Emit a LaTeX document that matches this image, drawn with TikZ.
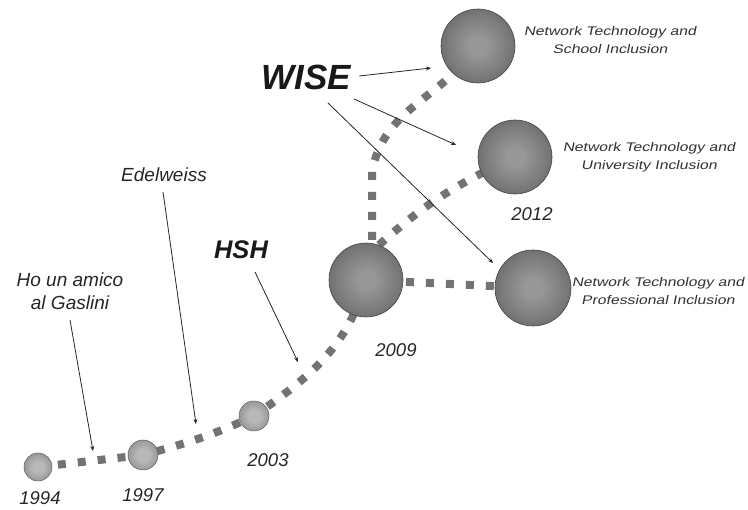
\documentclass[tikz,border=0pt]{standalone}
\usepackage{fontspec}
\setmainfont{Liberation Sans}
\newfontfamily\widefont[FakeStretch=1.26, FakeSlant=0.2]{Liberation Sans}
\usetikzlibrary{arrows.meta}
\definecolor{bigA}{HTML}{979797}
\definecolor{bigB}{HTML}{787878}
\definecolor{bigC}{HTML}{5E5E5E}
\definecolor{bigD}{HTML}{454545}
\definecolor{smA}{HTML}{B8B8B8}
\definecolor{smB}{HTML}{8E8E8E}
\definecolor{smC}{HTML}{5E5E5E}
\pgfdeclareradialshading{bigsphere}{\pgfpoint{0bp}{0bp}}{%
  color(0bp)=(bigA); color(6bp)=(bigA); color(22bp)=(bigB); color(33bp)=(bigC);
  color(40bp)=(bigD); color(50bp)=(bigD)}
\pgfdeclareradialshading{smallsphere}{\pgfpoint{0bp}{0bp}}{%
  color(0bp)=(smA); color(10bp)=(smA); color(30bp)=(smB); color(50bp)=(smC)}
\begin{document}
\begin{tikzpicture}[x=1pt,y=1pt,
  trail/.style={draw=black!55, line width=8pt, dash pattern=on 8pt off 12pt},
  pin/.style={draw=black!85, line width=0.8pt, -{Stealth[length=5pt,width=4pt]}},
  smallball/.style={circle, minimum size=#1, inner sep=0pt, draw=smC, line width=0.5pt,
    shading=smallsphere},
  bigball/.style={circle, minimum size=#1, inner sep=0pt, draw=bigD, line width=0.6pt,
    shading=bigsphere},
  year/.style={font=\fontsize{18.5}{22}\selectfont\itshape, text=black!85},
  tag/.style={font=\fontsize{19}{23}\selectfont\itshape, text=black!85, align=center},
  project/.style={font=\bfseries\itshape, text=black!90},
  goal/.style={font=\widefont\fontsize{12.5}{18}\selectfont, text=black!80, align=center,
    inner sep=1pt}]
\useasboundingbox (0,0) rectangle (748,510);

% milestones
\coordinate (c1994) at (38,43);
\coordinate (c1997) at (143,55);
\coordinate (c2003) at (254,94);
\coordinate (c2009) at (366,230);
\coordinate (cSchool) at (478,464);
\coordinate (cUniv) at (515,353);
\coordinate (cProf) at (533,222);
\coordinate (bend) at (372,338);

% dotted timeline
\draw[trail] (c1994) -- (c1997) to[out=15,in=205] (c2003) to[out=35,in=-105] (c2009);
\draw[trail] (bend |- c2009) -- (bend) to[out=80,in=235] (cSchool);
\draw[trail] ([shift={(13,35)}]c2009) to[out=42,in=205] (cUniv);
\draw[trail] (c2009) -- (cProf);

% spheres
\node[smallball=28pt] (b1994) at (c1994) {};
\node[smallball=30pt] (b1997) at (c1997) {};
\node[smallball=30pt] (b2003) at (c2003) {};
\node[bigball=74pt] (b2009) at (c2009) {};
\node[bigball=74pt] (bSchool) at (cSchool) {};
\node[bigball=74pt] (bUniv) at (cUniv) {};
\node[bigball=76pt] (bProf) at (cProf) {};

% years
\node[year] (t1994) at (40,12) {1994};
\node[year] (t1997) at (143,15) {1997};
\node[year] (t2003) at (268,50) {2003};
\node[year] (t2009) at (396,160) {2009};
\node[year] (t2012) at (532,296) {2012};

% goals
\node[goal] (gSchool) at (610,470) {Network Technology and\\School Inclusion};
\node[goal] (gUniv) at (649,353) {Network Technology and\\University Inclusion};
\node[goal] (gProf) at (658,219) {Network Technology and\\Professional Inclusion};

% projects
\node[tag] (gaslini) at (70,219) {Ho un amico\\al Gaslini};
\node[tag] (edel) at (164,335) {Edelweiss};
\node[project, font=\fontsize{25.5}{30}\selectfont\bfseries\itshape] (hsh) at (241,260) {HSH};
\node[project, font=\fontsize{35}{40}\selectfont\bfseries\itshape] (wise) at (306,433) {WISE};

% pointers
\coordinate (pG) at (93,59);
\coordinate (pE) at (196,86);
\coordinate (pH) at (298,148);
\coordinate (pS) at (431,442);
\coordinate (pU) at (456,365);
\coordinate (pP) at (493,247);
\draw[pin] (70,190) -- (pG);
\draw[pin] (163,318) -- (pE);
\draw[pin] (255,238) -- (pH);
\draw[pin] (wise.east) ++(5,1) -- (pS);
\draw[pin] (354,411) -- (pU);
\draw[pin] (328,407) -- (pP);
\end{tikzpicture}
\end{document}
